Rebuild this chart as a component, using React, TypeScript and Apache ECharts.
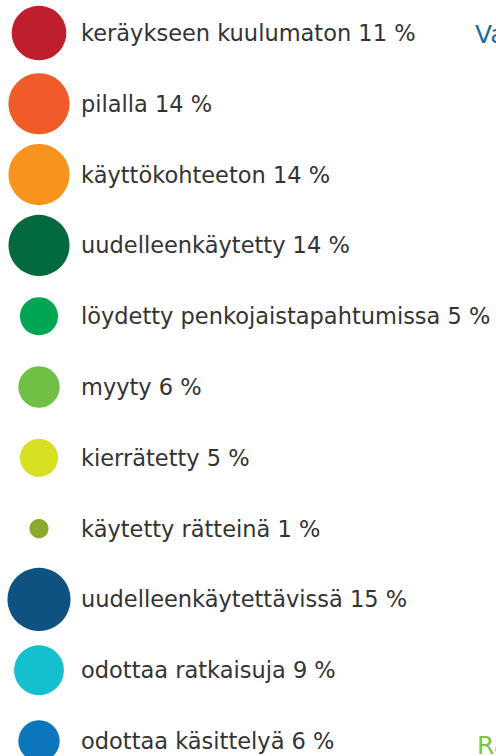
import React, { useEffect, useRef } from "react";
import * as echarts from "echarts";

const categories = [
  "keräykseen kuulumaton",
  "pilalla",
  "käyttökohteeton",
  "uudelleenkäytetty",
  "löydetty penkojaistapahtumissa",
  "myyty",
  "kierrätetty",
  "käytetty rätteinä",
  "uudelleenkäytettävissä",
  "odottaa ratkaisuja",
  "odottaa käsittelyä",
];
const shares = [11, 14, 14, 14, 5, 6, 5, 1, 15, 9, 6];
const colors = [
  "#be1e2d",
  "#f15a29",
  "#f7941d",
  "#036a3f",
  "#00a651",
  "#71bf45",
  "#d7df23",
  "#8ea82c",
  "#0d5280",
  "#14bfcf",
  "#0b76bc",
];

export default function App() {
  const ref = useRef<HTMLDivElement>(null);
  useEffect(() => {
    document.body.style.margin = "0";
    const chart = echarts.init(ref.current!, null, { renderer: "svg" });
    const font = "'DejaVu Sans', sans-serif";
    chart.setOption({
      animation: false,
      grid: { left: 39, right: 0, top: 33, height: 708 },
      xAxis: { type: "value", min: 0, max: 1, show: false },
      yAxis: {
        type: "category",
        data: categories,
        inverse: true,
        boundaryGap: false,
        show: false,
      },
      series: [
        {
          type: "scatter",
          clip: false,
          data: shares.map((v, i) => ({
            value: [0, categories[i]],
            itemStyle: { color: colors[i], opacity: 1 },
          })),
          symbolSize: (_: any, p: any) => 3.85 + 15.3 * Math.sqrt(shares[p.dataIndex]),
        },
        {
          type: "scatter",
          clip: false,
          symbolSize: 1,
          itemStyle: { color: "transparent", opacity: 1 },
          data: shares.map((v, i) => ({ value: [0, categories[i]] })),
          label: {
            show: true,
            position: "right",
            distance: 41.5,
            color: "#333333",
            fontFamily: font,
            fontSize: 22.5,
            formatter: (p: any) => `${categories[p.dataIndex]} ${shares[p.dataIndex]} %`,
          },
        },
      ],
      graphic: [
        {
          type: "text",
          left: 475,
          top: 22,
          style: { text: "Va", fill: "#1f6aa5", font: `25px ${font}` },
        },
        {
          type: "text",
          left: 477,
          top: 733,
          style: { text: "Ra", fill: "#7cc349", font: `25px ${font}` },
        },
      ],
    });
    return () => chart.dispose();
  }, []);
  return <div ref={ref} style={{ width: 496, height: 756 }} />;
}
